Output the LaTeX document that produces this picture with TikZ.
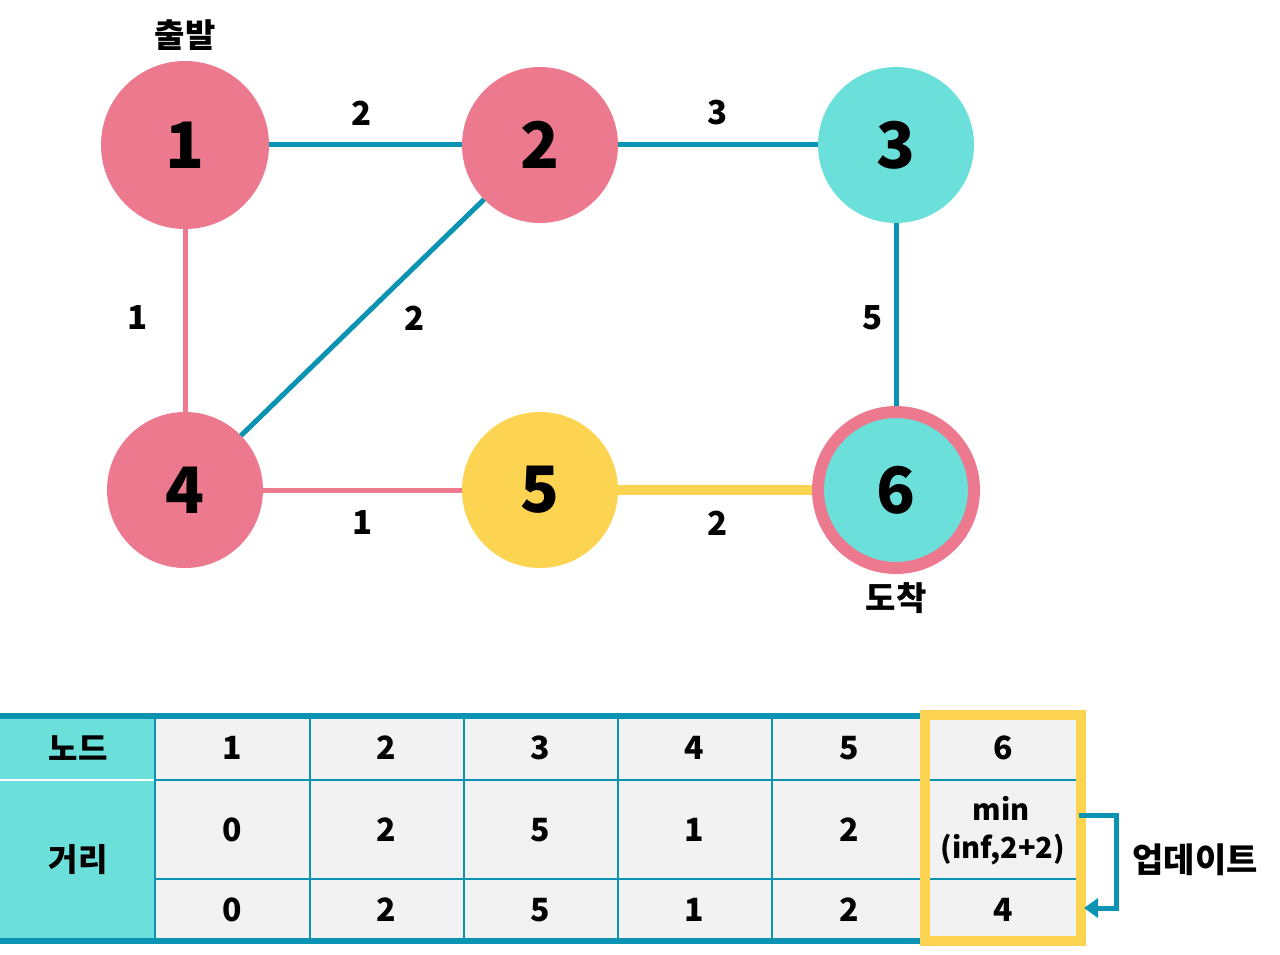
\documentclass[tikz,border=0pt]{standalone}
\usepackage{fontspec}
\setmainfont{Noto Sans CJK KR}
\usetikzlibrary{arrows.meta}
\definecolor{cpink}{HTML}{EC798E}
\definecolor{cteal}{HTML}{6BE0DB}
\definecolor{cyel}{HTML}{FDD352}
\definecolor{cblue}{HTML}{0B93B4}
\definecolor{cgray}{HTML}{F2F2F2}
\begin{document}
\begin{tikzpicture}[x=1pt,y=-1pt,
  vert/.style={circle, minimum size=156pt, inner sep=0pt, outer sep=0pt, font=\fontsize{64}{64}\selectfont\bfseries},
  elab/.style={font=\fontsize{33}{33}\selectfont\bfseries, inner sep=0pt},
  tlab/.style={font=\fontsize{32}{32}\selectfont\bfseries, inner sep=0pt},
  bedge/.style={draw=cblue, line width=5pt},
  pedge/.style={draw=cpink, line width=5pt},
  yedge/.style={draw=cyel, line width=10pt},
  grid/.style={draw=cblue, line width=2pt},
  thick/.style={draw=cblue, line width=6pt}
]
\useasboundingbox (0,0) rectangle (1280,955);
% vertices
\node[vert, fill=cpink, minimum size=168pt] (n1) at (185,145) {1};
\node[vert, fill=cpink] (n2) at (540,145) {2};
\node[vert, fill=cteal] (n3) at (896,145) {3};
\node[vert, fill=cpink] (n4) at (185,490) {4};
\node[vert, fill=cyel] (n5) at (540,490) {5};
\node[vert, fill=cteal, draw=cpink, line width=12pt, minimum size=156pt, outer sep=6pt] (n6) at (896,490) {6};
% edges
\draw[bedge] (n1) -- (n2);
\draw[bedge] (n2) -- (n3);
\draw[pedge] (n1) -- (n4);
\draw[bedge] (n2) -- (n4);
\draw[bedge] (n3) -- (n6);
\draw[pedge] (n4) -- (n5);
\draw[yedge] (n5) -- (n6);
% edge labels
\node[elab] (l12) at (362,113) {2};
\node[elab] (l23) at (718,113) {3};
\node[elab] (l14) at (138,318) {1};
\node[elab] (l24) at (415,318) {2};
\node[elab] (l36) at (873,318) {5};
\node[elab] (l45) at (363,523) {1};
\node[elab] (l56) at (718,523) {2};
% start / end labels
\node[tlab, font=\fontsize{33}{33}\selectfont\bfseries] (start) at (185,35) {출발};
\node[tlab, font=\fontsize{33}{33}\selectfont\bfseries] (goal) at (896,598) {도착};
% table
\fill[cteal] (0,719) rectangle (155,938);
\fill[cgray] (155,719) rectangle (1076,938);
\draw[white, line width=2pt] (0,780) -- (155,780);
\draw[grid] (155,780) -- (1076,780);
\draw[grid] (155,879) -- (1076,879);
\foreach \x in {155,310,464,618,772} \draw[grid] (\x,719) -- (\x,938);
\draw[thick] (0,716) -- (925,716);
\draw[thick] (0,941) -- (925,941);
\draw[draw=cyel, line width=10pt] (925,715) rectangle (1081,941);
% table texts
\node[tlab] (hnode) at (78,748) {노드};
\node[tlab] (hdist) at (78,860) {거리};
\foreach \v [count=\i] in {1,...,6} {
  \node[tlab] (c1\i) at ({232+154.2*(\i-1)},748) {\v};
}
\foreach \v [count=\i] in {0,2,5,1,2} {
  \node[tlab] (c2\i) at ({232+154.2*(\i-1)},830) {\v};
  \node[tlab] (c3\i) at ({232+154.2*(\i-1)},910) {\v};
}
\node[tlab, font=\fontsize{29}{29}\selectfont\bfseries] (cmin) at (1001,808) {min};
\node[tlab, font=\fontsize{29}{29}\selectfont\bfseries] (cinf) at (1003,850) {(inf,2+2)};
\node[tlab] (c36) at (1003,910) {4};
% update arrow
\coordinate (a0) at (1079,815);
\coordinate (a1) at (1084,908);
\draw[draw=cblue, line width=5pt, -{Triangle[length=14pt,width=19pt]}] (a0) -- (1116,815) -- (1116,908) -- (a1);
\node[tlab, font=\fontsize{34}{34}\selectfont\bfseries] (upd) at (1195,860) {업데이트};
\end{tikzpicture}
\end{document}
